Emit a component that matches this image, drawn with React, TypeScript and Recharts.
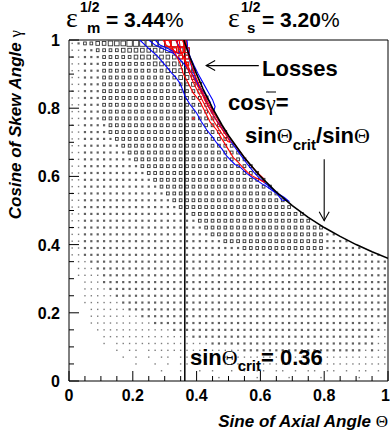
import React from 'react';
import { ScatterChart, Scatter, XAxis, YAxis, ReferenceLine, ReferenceArea } from 'recharts';

const W = 390;
const H = 431;
const SANS = "'Liberation Sans', Arial, Helvetica, sans-serif";
const SERIF = "'Liberation Serif', 'Times New Roman', serif";

// 50 bin centres (both axes)
const BIN_CENTERS = [0.01, 0.03, 0.05, 0.07, 0.09, 0.11, 0.13, 0.15, 0.17, 0.19, 0.21, 0.23, 0.25, 0.27, 0.29, 0.31, 0.33, 0.35, 0.37, 0.39, 0.41, 0.43, 0.45, 0.47, 0.49, 0.51, 0.53, 0.55, 0.57, 0.59, 0.61, 0.63, 0.65, 0.67, 0.69, 0.71, 0.73, 0.75, 0.77, 0.79, 0.81, 0.83, 0.85, 0.87, 0.89, 0.91, 0.93, 0.95, 0.97, 0.99];

// box sizes, top row (cos = 0.99) first, columns from sin = 0.01
const BOX_ROWS = [
  '1233445556' + '66667777',
  '1122333344' + '444445555',
  '1122233333' + '444444444',
  '1122233333' + '333444444',
  '1122233333' + '3333344444',
  '1122233333' + '3333333444',
  '1122233333' + '3333333334' + '4',
  '1122233333' + '3333333333' + '4',
  '1122233333' + '3333333333' + '34',
  '1122233333' + '3333333333' + '33',
  '1122233333' + '3333333333' + '333',
  '1122233333' + '3333333333' + '333',
  '1122223333' + '3333333333' + '3333',
  '1122223333' + '3333333333' + '33333',
  '1122222333' + '3333333333' + '33333',
  '1122222233' + '3333333333' + '333333',
  '1122222223' + '3333333333' + '3333333',
  '1122222222' + '3333333333' + '33333333',
  '1122222222' + '2333333333' + '333333333',
  '1122222222' + '2233333333' + '3333333333',
  '1122222222' + '2223333333' + '3333333333' + '3',
  '1122222222' + '2222333333' + '3333333333' + '33',
  '1122222222' + '2222233333' + '3333333333' + '333',
  '1122222222' + '2222223333' + '3333333333' + '3333',
  '1122222222' + '2222222333' + '3333333333' + '33333',
  '1122222222' + '2222222223' + '3333333333' + '3333333',
  '1122222222' + '2222222222' + '3333333333' + '33333333',
  '1122222222' + '2222222222' + '2333333333' + '3333333333',
  '1122222222' + '2222222222' + '2233333333' + '3333333333' + '22',
  '1122222222' + '2222222222' + '2222333333' + '3333333333' + '2222',
  '1122222222' + '2222222222' + '2222222333' + '3333333333' + '222222',
  '1122222222' + '2222222222' + '2222222222' + '2222222222' + '222222222',
  '0112222222' + '2222222222' + '2222222222' + '2222222222' + '2222222222',
  '0111222222' + '2222222222' + '2222222222' + '2222222222' + '2222222222',
  '0111122222' + '2222222222' + '2222222222' + '2222222222' + '2222222222',
  '0011122222' + '2222222222' + '2222222222' + '2222222222' + '2222222222',
  '0011112222' + '2222222222' + '2222222222' + '2222222222' + '2222222222',
  '0011111222' + '2222222222' + '2222222222' + '2222222222' + '2222222222',
  '0011111122' + '2222222222' + '2222222222' + '2222222222' + '2222222222',
  '0001111112' + '2222222222' + '2222222222' + '2222222222' + '2222222222',
  '0001111111' + '1222222222' + '2222222222' + '2222222222' + '2222222222',
  '0001111111' + '1112222222' + '2222222222' + '2222222222' + '2222222212',
  '0000111111' + '1111112222' + '2222222222' + '2222222222' + '2222222221',
  '0000011111' + '1111111112' + '2222222222' + '2222222222' + '2222222211',
  '0000010111' + '1111111111' + '1122222222' + '2222222222' + '2222222211',
  '0000000101' + '1011111111' + '1111111222' + '2222222222' + '2222221211',
  '0000000010' + '1010110111' + '1111111111' + '1111111111' + '1111111111',
  '0000000000' + '1001010110' + '1101111011' + '1111111111' + '1111111111',
  '0000000000' + '0000100100' + '1010010101' + '1011010110' + '1101011010',
  '0000000000' + '0000000000' + '0001000001' + '0000100001' + '0000010000',
];

// red (loss) boxes and isolated loss entries
const LOSS_BOX_X = [0.31, 0.33, 0.35, 0.33, 0.35, 0.37, 0.35, 0.37, 0.37, 0.39, 0.43, 0.39];
const LOSS_BOX_Y = [0.99, 0.99, 0.99, 0.97, 0.97, 0.97, 0.95, 0.95, 0.93, 0.91, 0.83, 0.77];
const LOSS_BOX_S = [6, 7, 7, 5, 6, 5, 4, 4, 3, 2, 2, 2];
const BLUE_BOX_X = [0.45];
const BLUE_BOX_Y = [0.79];
const BLUE_BOX_S = [2];

// critical curve cos(gamma) = sin(theta_crit)/sin(theta)
const CURVE_X = [0.36, 0.37, 0.38, 0.4, 0.42, 0.45, 0.48, 0.5, 0.55, 0.6, 0.65, 0.7, 0.75, 0.8, 0.85, 0.9, 0.95, 1.0];
const CURVE_Y = [1.0, 0.973, 0.947, 0.9, 0.857, 0.8, 0.75, 0.72, 0.655, 0.6, 0.554, 0.514, 0.48, 0.45, 0.424, 0.4, 0.379, 0.36];

const SIN_CRIT = 0.363;

// contour lines
const BLUE_OUTER: [number, number][] = [
  [0.222, 1.0], [0.25, 0.975], [0.275, 0.955], [0.296, 0.932], [0.32, 0.905], [0.335, 0.89], [0.348, 0.873],
  [0.358, 0.85], [0.364, 0.834], [0.38, 0.81], [0.4, 0.786], [0.415, 0.76], [0.432, 0.736], [0.45, 0.715],
  [0.463, 0.698], [0.48, 0.68], [0.494, 0.66], [0.51, 0.645], [0.52, 0.635], [0.536, 0.628], [0.557, 0.609],
  [0.575, 0.597], [0.588, 0.589], [0.605, 0.578], [0.62, 0.57], [0.635, 0.56], [0.651, 0.55], [0.667, 0.531],
  [0.688, 0.528], [0.675, 0.538], [0.655, 0.55], [0.635, 0.565], [0.615, 0.58], [0.6, 0.592], [0.58, 0.612],
  [0.56, 0.635], [0.54, 0.66], [0.52, 0.686], [0.5, 0.712], [0.48, 0.74], [0.46, 0.768], [0.44, 0.8],
  [0.42, 0.84], [0.405, 0.87], [0.39, 0.905], [0.38, 0.935], [0.372, 0.965], [0.37, 1.0],
];
const BLUE_MID: [number, number][] = [
  [0.25, 1.0], [0.27, 0.985], [0.3, 0.972], [0.327, 0.961], [0.345, 0.945], [0.358, 0.932], [0.372, 0.915],
  [0.385, 0.902], [0.395, 0.885], [0.405, 0.868], [0.42, 0.85], [0.432, 0.834], [0.442, 0.819], [0.447, 0.8],
  [0.455, 0.795], [0.458, 0.805], [0.45, 0.825], [0.435, 0.85], [0.42, 0.875], [0.405, 0.9], [0.392, 0.925],
  [0.38, 0.95], [0.372, 0.975], [0.368, 1.0],
];
const BLUE_SMALL: [number, number][] = [
  [0.27, 1.0], [0.285, 0.985], [0.31, 0.975], [0.33, 0.965], [0.345, 0.96], [0.35, 0.975], [0.34, 0.99], [0.335, 1.0],
];
const RED_OUTER: [number, number][] = [
  [0.312, 1.0], [0.325, 0.975], [0.338, 0.951], [0.348, 0.932], [0.358, 0.902], [0.374, 0.873], [0.39, 0.844],
  [0.411, 0.819], [0.426, 0.79], [0.442, 0.76], [0.463, 0.736], [0.479, 0.71], [0.499, 0.68], [0.515, 0.655],
  [0.53, 0.642], [0.546, 0.625], [0.56, 0.612], [0.572, 0.603], [0.585, 0.596], [0.598, 0.59], [0.612, 0.583],
  [0.608, 0.596], [0.59, 0.612], [0.57, 0.632], [0.55, 0.655], [0.53, 0.68], [0.51, 0.705], [0.49, 0.732],
  [0.47, 0.762], [0.45, 0.792], [0.43, 0.826], [0.412, 0.86], [0.398, 0.89], [0.386, 0.92], [0.376, 0.95],
  [0.37, 0.975], [0.366, 1.0],
];
const RED_MID: [number, number][] = [
  [0.335, 1.0], [0.345, 0.975], [0.36, 0.95], [0.372, 0.925], [0.385, 0.9], [0.4, 0.87], [0.415, 0.845],
  [0.428, 0.82], [0.44, 0.8], [0.455, 0.775], [0.468, 0.755], [0.482, 0.735], [0.497, 0.715], [0.505, 0.7],
  [0.498, 0.702], [0.485, 0.718], [0.47, 0.738], [0.455, 0.76], [0.44, 0.785], [0.425, 0.81], [0.41, 0.838],
  [0.395, 0.865], [0.382, 0.892], [0.37, 0.92], [0.36, 0.945], [0.35, 0.97], [0.345, 1.0],
];
const RED_TOP: [number, number][] = [
  [0.295, 1.0], [0.305, 0.985], [0.32, 0.975], [0.335, 0.965], [0.35, 0.96], [0.36, 0.965], [0.362, 0.985], [0.355, 1.0],
];

// arrows (tail, tip)
const LOSSES_ARROW = [{ x: 0.595, y: 0.925 }, { x: 0.43, y: 0.925 }];
const CURVE_ARROW = [{ x: 0.8, y: 0.65 }, { x: 0.8, y: 0.47 }];

// axis ticks
const TICKS = [0, 0.05, 0.1, 0.15, 0.2, 0.25, 0.3, 0.35, 0.4, 0.45, 0.5, 0.55, 0.6, 0.65, 0.7, 0.75, 0.8, 0.85, 0.9, 0.95, 1];
const TICK_LABELS = ['0', '0.2', '0.4', '0.6', '0.8', '1'];

const BOXES = BOX_ROWS.flatMap((row, r) =>
  row.split('').map((ch, c) => ({ x: BIN_CENTERS[c], y: BIN_CENTERS[49 - r], s: Number(ch) })).filter((b) => b.s > 0)
);
const LOSS_BOXES = LOSS_BOX_X.map((x, i) => ({ x, y: LOSS_BOX_Y[i], s: LOSS_BOX_S[i] }));
const BLUE_BOXES = BLUE_BOX_X.map((x, i) => ({ x, y: BLUE_BOX_Y[i], s: BLUE_BOX_S[i] }));
const CURVE = CURVE_X.map((x, i) => ({ x, y: CURVE_Y[i] }));
const toPts = (a: [number, number][]) => a.map(([x, y]) => ({ x, y }));

const majorIndex = (v: number) => {
  const k = v / 0.2;
  return Math.abs(k - Math.round(k)) < 1e-6 ? Math.round(k) : -1;
};

const makeBox = (color: string, dot: string) => (props: any) => {
  const { cx, cy, payload } = props;
  const s = payload?.s ?? 0;
  if (!s || cx == null || cy == null) return <g />;
  if (s === 1) return <rect x={cx - 0.7} y={cy - 0.7} width={1.4} height={1.4} fill={dot} opacity={0.7} />;
  if (s === 2) return <rect x={cx - 1.1} y={cy - 1.1} width={2.2} height={2.2} fill={dot} opacity={0.85} />;
  const w = s * 0.9;
  const h = s * 0.96;
  return <rect x={cx - w / 2} y={cy - h / 2} width={w} height={h} fill="none" stroke={color} strokeWidth={0.9} />;
};
const GrayBox = makeBox('#333', '#444');
const RedBox = makeBox('#ff0000', '#ff0000');
const BlueBox = makeBox('#0000ff', '#0000ff');
const Empty = () => <g />;

const BottomTick = (p: any) => {
  const { x, y, payload } = p;
  const k = majorIndex(payload.value);
  const last = k === TICK_LABELS.length - 1;
  return (
    <g>
      <line x1={x} x2={x} y1={y} y2={y - (k >= 0 ? 10 : 5)} stroke="#000" strokeWidth={1} />
      {k >= 0 && (
        <text
          x={last ? x + 2 : x}
          y={y + 20}
          textAnchor={last ? 'end' : 'middle'}
          fontFamily={SANS}
          fontWeight="bold"
          fontSize={16}
          fill="#000"
        >
          {TICK_LABELS[k]}
        </text>
      )}
    </g>
  );
};
const TopTick = (p: any) => {
  const { x, y, payload } = p;
  const k = majorIndex(payload.value);
  return <line x1={x} x2={x} y1={y} y2={y + (k >= 0 ? 10 : 5)} stroke="#000" strokeWidth={1} />;
};
const LeftTick = (p: any) => {
  const { x, y, payload } = p;
  const k = majorIndex(payload.value);
  return (
    <g>
      <line x1={x} x2={x + (k >= 0 ? 10 : 5)} y1={y} y2={y} stroke="#000" strokeWidth={1} />
      {k >= 0 && (
        <text x={x - 9} y={y + 6} textAnchor="end" fontFamily={SANS} fontWeight="bold" fontSize={16} fill="#000">
          {TICK_LABELS[k]}
        </text>
      )}
    </g>
  );
};
const RightTick = (p: any) => {
  const { x, y, payload } = p;
  const k = majorIndex(payload.value);
  return <line x1={x} x2={x - (k >= 0 ? 10 : 5)} y1={y} y2={y} stroke="#000" strokeWidth={1} />;
};

const ArrowShape = (props: any) => {
  const { x1, y1, x2, y2 } = props;
  if ([x1, y1, x2, y2].some((v) => v == null || Number.isNaN(v))) return <g />;
  const ang = Math.atan2(y2 - y1, x2 - x1);
  const L = 9;
  const Wd = 5;
  const bx = x2 - L * Math.cos(ang);
  const by = y2 - L * Math.sin(ang);
  const px = -Math.sin(ang) * Wd;
  const py = Math.cos(ang) * Wd;
  return (
    <g>
      <line x1={x1} y1={y1} x2={x2} y2={y2} stroke="#000" strokeWidth={1.1} />
      <polyline points={`${bx + px},${by + py} ${x2},${y2} ${bx - px},${by - py}`} fill="none" stroke="#000" strokeWidth={1.1} />
    </g>
  );
};

const Annotations = () => (
  <svg width={W} height={H} style={{ position: 'absolute', left: 0, top: 0, pointerEvents: 'none' }}>
    {/* eps_m */}
    <text x={66} y={27} fontFamily={SERIF} fontSize={28} fill="#000">ε</text>
    <text x={80} y={12} fontFamily={SANS} fontWeight="bold" fontSize={14} fill="#000">1/2</text>
    <text x={87} y={33} fontFamily={SANS} fontWeight="bold" fontSize={15} fill="#000">m</text>
    <text x={106} y={27} fontFamily={SANS} fontSize={21} fill="#000">
      <tspan fontWeight="bold">= 3.44</tspan>
      <tspan>%</tspan>
    </text>
    {/* eps_s */}
    <text x={228} y={27} fontFamily={SERIF} fontSize={28} fill="#000">ε</text>
    <text x={241} y={12} fontFamily={SANS} fontWeight="bold" fontSize={14} fill="#000">1/2</text>
    <text x={247} y={33} fontFamily={SANS} fontWeight="bold" fontSize={15} fill="#000">s</text>
    <text x={262} y={27} fontFamily={SANS} fontSize={21} fill="#000">
      <tspan fontWeight="bold">= 3.20</tspan>
      <tspan>%</tspan>
    </text>
    {/* Losses */}
    <text x={262} y={76} fontFamily={SANS} fontWeight="bold" fontSize={22} fill="#000">Losses</text>
    {/* cos gamma = */}
    <text x={228} y={110} fontFamily={SANS} fontWeight="bold" fontSize={22} fill="#000">
      <tspan>cos</tspan>
      <tspan fontFamily={SERIF} fontWeight="normal">γ</tspan>
      <tspan>=</tspan>
    </text>
    <line x1={266} x2={276} y1={92} y2={92} stroke="#000" strokeWidth={1} />
    {/* sin theta_crit / sin theta */}
    <text x={245} y={143} fontFamily={SANS} fontWeight="bold" fontSize={22} fill="#000">
      <tspan>sin</tspan>
      <tspan fontFamily={SERIF} fontWeight="normal">Θ</tspan>
      <tspan fontSize={15} dy={7}>crit</tspan>
      <tspan dy={-7}>/sin</tspan>
      <tspan fontFamily={SERIF} fontWeight="normal">Θ</tspan>
    </text>
    {/* sin theta_crit = 0.36 */}
    <text x={190} y={365} fontFamily={SANS} fontWeight="bold" fontSize={22} fill="#000">
      <tspan>sin</tspan>
      <tspan fontFamily={SERIF} fontWeight="normal">Θ</tspan>
      <tspan fontSize={15} dy={6}>crit</tspan>
      <tspan dy={-6}>= 0.36</tspan>
    </text>
    {/* axis titles */}
    <text x={388} y={427} textAnchor="end" fontFamily={SANS} fontWeight="bold" fontStyle="italic" fontSize={17} fill="#000">
      <tspan>Sine of Axial Angle </tspan>
      <tspan fontFamily={SERIF} fontWeight="normal" fontStyle="normal">Θ</tspan>
    </text>
    <text
      x={21}
      y={30}
      transform="rotate(-90 21 30)"
      textAnchor="end"
      fontFamily={SANS}
      fontWeight="bold"
      fontStyle="italic"
      fontSize={17}
      fill="#000"
    >
      <tspan>Cosine of Skew Angle </tspan>
      <tspan fontFamily={SERIF} fontWeight="normal" fontStyle="normal">γ</tspan>
    </text>
  </svg>
);

export default function App() {
  return (
    <div style={{ position: 'absolute', left: 0, top: 0, width: W, height: H, background: '#fff' }}>
      <ScatterChart width={W} height={H} margin={{ top: 40, right: 2, bottom: 0, left: 0 }}>
        <XAxis
          dataKey="x"
          type="number"
          domain={[0, 1]}
          ticks={TICKS}
          interval={0}
          tick={BottomTick}
          tickLine={false}
          axisLine={false}
          tickSize={0}
          tickMargin={0}
          height={50}
          allowDataOverflow
        />
        <XAxis
          xAxisId="top"
          orientation="top"
          dataKey="x"
          type="number"
          domain={[0, 1]}
          ticks={TICKS}
          interval={0}
          tick={TopTick}
          tickLine={false}
          axisLine={false}
          tickSize={0}
          tickMargin={0}
          height={0}
          allowDataOverflow
        />
        <YAxis
          dataKey="y"
          type="number"
          domain={[0, 1]}
          ticks={TICKS}
          interval={0}
          tick={LeftTick}
          tickLine={false}
          axisLine={false}
          tickSize={0}
          tickMargin={0}
          width={69}
          allowDataOverflow
        />
        <YAxis
          yAxisId="right"
          orientation="right"
          dataKey="y"
          type="number"
          domain={[0, 1]}
          ticks={TICKS}
          interval={0}
          tick={RightTick}
          tickLine={false}
          axisLine={false}
          tickSize={0}
          tickMargin={0}
          width={0}
          allowDataOverflow
        />
        <ReferenceArea x1={0} x2={1} y1={0} y2={1} fill="none" fillOpacity={0} stroke="#000" strokeWidth={1} />
        <Scatter data={BOXES} shape={GrayBox} isAnimationActive={false} />
        <Scatter data={LOSS_BOXES} shape={RedBox} isAnimationActive={false} />
        <Scatter data={BLUE_BOXES} shape={BlueBox} isAnimationActive={false} />
        <Scatter data={toPts(BLUE_OUTER)} line={{ stroke: '#0000ff', strokeWidth: 1.1 }} shape={Empty} isAnimationActive={false} />
        <Scatter data={toPts(BLUE_MID)} line={{ stroke: '#0000ff', strokeWidth: 1.1 }} shape={Empty} isAnimationActive={false} />
        <Scatter data={toPts(BLUE_SMALL)} line={{ stroke: '#0000ff', strokeWidth: 1.1 }} shape={Empty} isAnimationActive={false} />
        <Scatter data={toPts(RED_OUTER)} line={{ stroke: '#ff0000', strokeWidth: 1.1 }} shape={Empty} isAnimationActive={false} />
        <Scatter data={toPts(RED_MID)} line={{ stroke: '#ff0000', strokeWidth: 1.1 }} shape={Empty} isAnimationActive={false} />
        <Scatter data={toPts(RED_TOP)} line={{ stroke: '#ff0000', strokeWidth: 1.1 }} shape={Empty} isAnimationActive={false} />
        <Scatter data={CURVE} line={{ stroke: '#000', strokeWidth: 1.6 }} shape={Empty} isAnimationActive={false} />
        <ReferenceLine x={SIN_CRIT} stroke="#000" strokeWidth={1.5} />
        <ReferenceLine segment={LOSSES_ARROW} shape={ArrowShape} />
        <ReferenceLine segment={CURVE_ARROW} shape={ArrowShape} />
      </ScatterChart>
      <Annotations />
    </div>
  );
}
